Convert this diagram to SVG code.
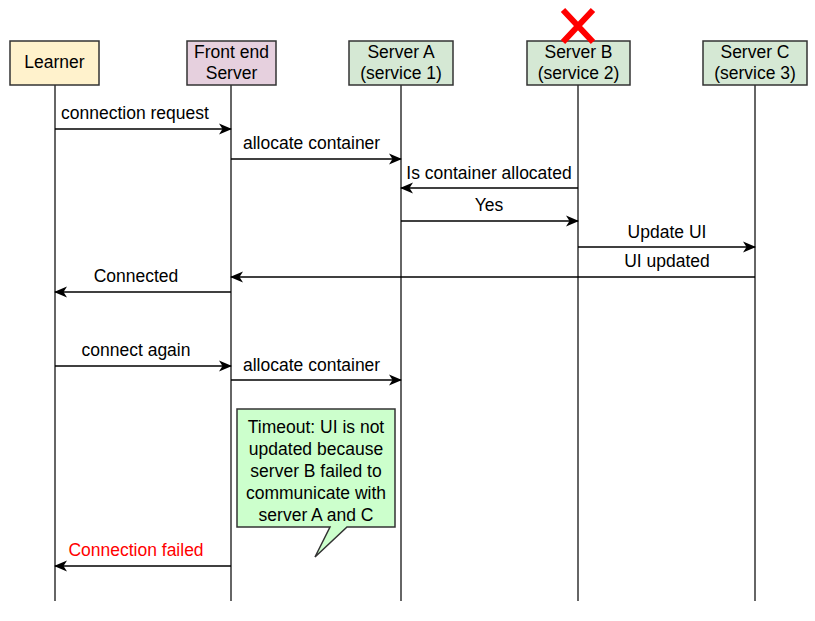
<svg xmlns="http://www.w3.org/2000/svg" width="815" height="621" viewBox="0 0 815 621">
<style>
text{font-family:"Liberation Sans",Arial,sans-serif;font-size:17.5px;fill:#000}
.box{stroke:#333;stroke-width:1.5}
.life{stroke:#333;stroke-width:1.5;fill:none}
.msg{stroke:#000;stroke-width:1.5;fill:none;marker-end:url(#ah)}
</style>
<defs>
<marker id="ah" markerWidth="14" markerHeight="12" refX="12" refY="6" orient="auto" markerUnits="userSpaceOnUse">
<path d="M0,0.5 L13,6 L0,11.5 L3.5,6 Z" fill="#000"/>
</marker>
</defs>
<rect width="815" height="621" fill="#fff"/>
<g id="lifelines">
<line class="life" x1="55" y1="85" x2="55" y2="601"/>
<line class="life" x1="231" y1="85" x2="231" y2="601"/>
<line class="life" x1="401" y1="85" x2="401" y2="601"/>
<line class="life" x1="578" y1="85" x2="578" y2="601"/>
<line class="life" x1="755" y1="85" x2="755" y2="601"/>
</g>
<g id="learner">
<rect class="box" x="10" y="41" width="89" height="44" fill="#FFF2CC"/>
<text x="54.5" y="68" text-anchor="middle">Learner</text>
</g>
<g id="frontend">
<rect class="box" x="187" y="41" width="89" height="44" fill="#E6D0DE"/>
<text x="231.5" y="58" text-anchor="middle">Front end</text>
<text x="231.5" y="79" text-anchor="middle">Server</text>
</g>
<g id="serverA">
<rect class="box" x="349" y="41" width="104" height="44" fill="#D5E8D4"/>
<text x="401" y="58" text-anchor="middle">Server A</text>
<text x="401" y="79" text-anchor="middle">(service 1)</text>
</g>
<g id="serverB">
<rect class="box" x="527" y="41" width="103" height="44" fill="#D5E8D4"/>
<text x="578.5" y="58" text-anchor="middle">Server B</text>
<text x="578.5" y="79" text-anchor="middle">(service 2)</text>
<path d="M563,10 L593,42 M593,10 L563,42" stroke="#FF0000" stroke-width="6" fill="none"/>
</g>
<g id="serverC">
<rect class="box" x="703" y="41" width="104" height="44" fill="#D5E8D4"/>
<text x="755" y="58" text-anchor="middle">Server C</text>
<text x="755" y="79" text-anchor="middle">(service 3)</text>
</g>
<g id="connectors">
<line class="msg" x1="55" y1="129" x2="231" y2="129"/>
<text x="61" y="119">connection request</text>
<line class="msg" x1="231" y1="159" x2="401" y2="159"/>
<text x="243" y="149">allocate container</text>
<line class="msg" x1="578" y1="188" x2="401" y2="188"/>
<text x="489" y="179" text-anchor="middle">Is container allocated</text>
<line class="msg" x1="401" y1="221" x2="578" y2="221"/>
<text x="489" y="211" text-anchor="middle">Yes</text>
<line class="msg" x1="578" y1="247" x2="755" y2="247"/>
<text x="667" y="238" text-anchor="middle">Update UI</text>
<line class="msg" x1="755" y1="277" x2="231" y2="277"/>
<text x="667" y="267" text-anchor="middle">UI updated</text>
<line class="msg" x1="231" y1="292" x2="55" y2="292"/>
<text x="136" y="282" text-anchor="middle">Connected</text>
<line class="msg" x1="55" y1="366" x2="231" y2="366"/>
<text x="136" y="356" text-anchor="middle">connect again</text>
<line class="msg" x1="231" y1="380" x2="401" y2="380"/>
<text x="243" y="371">allocate container</text>
<line class="msg" x1="231" y1="566" x2="55" y2="566"/>
<text x="136" y="556" text-anchor="middle" style="fill:#FF0000">Connection failed</text>
</g>
<g id="callout">
<path d="M237,409 L395,409 L395,527 L347,527 L315,557 L330,527 L237,527 Z" fill="#CCFFCC" stroke="#333" stroke-width="1.5"/>
<text x="316" y="433" text-anchor="middle">Timeout: UI is not</text>
<text x="316" y="455" text-anchor="middle">updated because</text>
<text x="316" y="477" text-anchor="middle">server B failed to</text>
<text x="316" y="499" text-anchor="middle">communicate with</text>
<text x="316" y="521" text-anchor="middle">server A and C</text>
</g>
</svg>
